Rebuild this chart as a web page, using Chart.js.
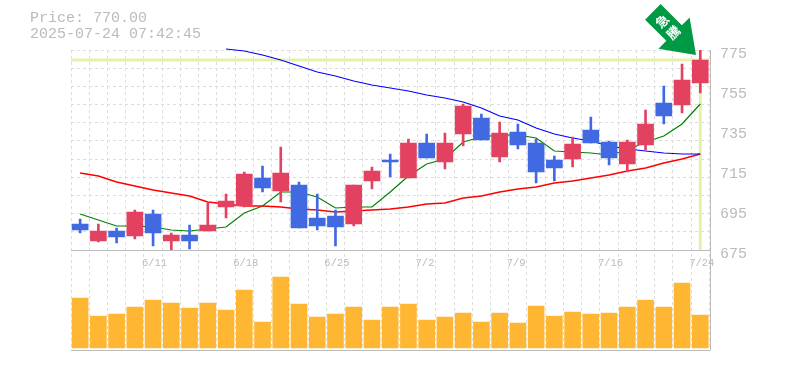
<!DOCTYPE html>
<html>
<head>
<meta charset="utf-8">
<style>
  html, body { margin: 0; padding: 0; background: #fff; }
  #wrap { width: 785px; height: 370px; }
</style>
<script src="https://cdn.jsdelivr.net/npm/chart.js@4"></script>
</head>
<body>
<div id="wrap"><canvas id="myChart" width="785" height="370"></canvas></div>
<script>
const dates = ['6/5','6/6','6/9','6/10','6/11','6/12','6/13','6/16','6/17','6/18','6/19','6/20','6/23','6/24','6/25','6/26','6/27','6/30','7/1','7/2','7/3','7/4','7/7','7/8','7/9','7/10','7/11','7/14','7/15','7/16','7/17','7/18','7/22','7/23','7/24'];
const dateTicks = ['6/11','6/18','6/25','7/2','7/9','7/16','7/24'];
const priceTicks = [775,755,735,715,695,675];

const opens  = [688,679.5,684.5,682,693,679.5,682.5,684.5,696.5,697,711,704.5,707.5,691,692,688,709.5,720,711,728.5,719,733,741,721.5,734,728.5,720,720.5,735,729,718,727.5,748.5,747.5,758.5];
const closes = [685,684.5,681.5,694,683.5,682.5,679.5,687.5,699.5,713,706,713.5,686,687,686.5,707.5,714.5,719,728.5,721,728.5,747,730,733.5,727.5,714,716,728,728.5,721,729,738,742,760,770];
const highs  = [690.5,688,686,695,695,683.5,687.5,698.5,703,714,717,726.5,709,703,695,707.5,716.5,723,730.5,733,733.5,748,743,739,738,730.5,722,731.5,741.5,729.5,730,745,757,768,775];
const lows   = [683.5,679,678.5,680.5,677,675,675.5,684.5,691,696.5,704,699,686,685,677,687,705.5,711.5,711,721,715.5,727,730,719,725.5,708.5,709.5,716.5,728.5,717.5,714,725,738,743.5,753.5];

const maShort = [693,690,687,687,686.5,685,684.5,685.5,686.5,693.5,697,704,704,701.5,696,696.5,696.5,704,712,718,720.5,729,731.5,732.5,732.5,731,724.5,724,723.5,722.5,725,729,732,738,748];
const maMid   = [713.5,712,709,707,705,703.5,702,699,698,697,697,696.5,695.5,695,694,694.5,695,695.5,696.5,698,698.5,701,702,704,705.5,706.5,708.5,709.5,711,712.5,714.5,716,718.5,720.5,723];
const maLong  = [null,null,null,null,null,null,null,null,775.5,774.5,772.5,770,767,764,762,759.5,757.5,756,754.5,752.5,751,749,746,742,740,736,733,731,729.5,727,725.5,724.5,723.5,723,723];

const volumes = [50,32,34,41,48,45,40,45,38,58,26,71,44,31,34,41,28,41,44,28,31,35,26,35,25,42,32,36,34,35,41,48,41,65,33];

const lastPrice = '770.00';
const timestamp = '2025-07-24 07:42:45';
const badgeText = '急騰';

const UP = '#e24260';
const DOWN = '#4169e1';
const LABEL = '#bbbbbb';
const isUp = closes.map((c, i) => c >= opens[i]);
const candleColors = isUp.map(u => u ? UP : DOWN);

const decorations = {
    id: 'decorations',
    beforeDatasetsDraw(chart) {
        const { ctx, chartArea: a, scales } = chart;
        const last = dates.length - 1;
        const x = scales.x.getPixelForValue(last);
        const y = scales.y.getPixelForValue(closes[last]);
        ctx.save();
        ctx.fillStyle = '#e3f2a8';
        ctx.fillRect(a.left, y - 1.5, a.right - a.left, 3);
        ctx.fillRect(x - 1.5, y, 3, scales.y.bottom - y);
        ctx.restore();
    },
    afterDraw(chart) {
        const { ctx, chartArea: a, scales } = chart;
        const last = dates.length - 1;
        const x = scales.x.getPixelForValue(last);
        const y = scales.y.getPixelForValue(highs[last]);
        const rightEdge = Math.round(a.right) + 1.5;

        ctx.save();
        // panel borders
        ctx.strokeStyle = '#bdbdbd';
        ctx.lineWidth = 1;
        ctx.beginPath();
        ctx.moveTo(a.left, scales.y.bottom + 0.5);
        ctx.lineTo(rightEdge, scales.y.bottom + 0.5);
        ctx.moveTo(a.left, a.bottom + 0.5);
        ctx.lineTo(rightEdge, a.bottom + 0.5);
        ctx.moveTo(rightEdge, a.top);
        ctx.lineTo(rightEdge, a.bottom);
        ctx.stroke();

        // header
        ctx.fillStyle = LABEL;
        ctx.font = '15px "Liberation Mono"';
        ctx.textBaseline = 'alphabetic';
        ctx.textAlign = 'left';
        ctx.fillText('Price: ' + lastPrice, 30, 22);
        ctx.fillText(timestamp, 30, 38);

        // price labels
        priceTicks.forEach(p => {
            ctx.fillText(String(p), 720, scales.y.getPixelForValue(p) + 8);
        });

        // date labels, left aligned on the grid line before the candle
        ctx.font = '10.5px "Liberation Mono"';
        const slot = (a.right - a.left) / dates.length;
        dateTicks.forEach(d => {
            ctx.fillText(d, scales.x.getPixelForValue(dates.indexOf(d)) - slot / 2 - 2, scales.y.bottom + 16);
        });

        // arrow pointing at the last candle
        ctx.translate(x - 4.3, y + 5);
        ctx.rotate(-Math.PI / 4);
        ctx.fillStyle = '#009944';
        ctx.beginPath();
        ctx.moveTo(0, 0);
        ctx.lineTo(-22, -31);
        ctx.lineTo(-11, -31);
        ctx.lineTo(-11, -61);
        ctx.lineTo(11, -61);
        ctx.lineTo(11, -31);
        ctx.lineTo(22, -31);
        ctx.closePath();
        ctx.fill();
        ctx.fillStyle = '#fff';
        ctx.font = 'bold 13px "Noto Sans CJK JP"';
        ctx.textAlign = 'center';
        ctx.textBaseline = 'middle';
        ctx.fillText(badgeText[0], 0, -48);
        ctx.fillText(badgeText[1], 0, -32);
        ctx.restore();
    }
};

const ctx = document.getElementById('myChart').getContext('2d');
new Chart(ctx, {
    type: 'bar',
    data: {
        labels: dates,
        datasets: [
            { type: 'line', data: maLong, borderColor: '#0000ff', borderWidth: 1.2, pointRadius: 0, tension: 0, yAxisID: 'y', order: 4, clip: false },
            { type: 'line', data: maMid, borderColor: '#ff0000', borderWidth: 1.5, pointRadius: 0, tension: 0, yAxisID: 'y', order: 4 },
            { type: 'line', data: maShort, borderColor: '#008000', borderWidth: 1.2, pointRadius: 0, tension: 0, yAxisID: 'y', order: 4 },
            { data: highs.map((h, i) => [lows[i], h]), backgroundColor: candleColors, barThickness: 2, grouped: false, yAxisID: 'y', order: 3 },
            { data: opens.map((o, i) => [o, closes[i]]), backgroundColor: candleColors, barThickness: 16, grouped: false, yAxisID: 'y', order: 2 },
            { data: volumes, backgroundColor: '#ffb733', barThickness: 16, grouped: false, yAxisID: 'yVol', order: 1 }
        ]
    },
    options: {
        responsive: false,
        animation: false,
        layout: { padding: { left: 71, right: 71.6, top: 50, bottom: 20 } },
        plugins: { legend: { display: false }, tooltip: { enabled: false } },
        scales: {
            x: {
                offset: true,
                grid: { color: '#dddddd', lineWidth: 1, offset: true, drawTicks: false },
                border: { display: false, dash: [3, 3] },
                ticks: { display: false, autoSkip: false }
            },
            y: {
                position: 'right',
                stack: 'panels',
                stackWeight: 2,
                min: 675,
                max: 775,
                afterBuildTicks(axis) {
                    const band = (axis.max - axis.min) / 11;
                    axis.ticks = Array.from({ length: 12 }, (_, i) => ({ value: axis.min + band * i }));
                },
                grid: { color: '#dddddd', drawTicks: false },
                border: { display: false, dash: [3, 3] },
                ticks: { display: false }
            },
            yVol: {
                position: 'right',
                stack: 'panels',
                stackWeight: 1,
                min: -2,
                max: 98,
                grid: { display: false },
                border: { display: false },
                ticks: { display: false }
            }
        }
    },
    plugins: [decorations]
});
</script>
</body>
</html>
